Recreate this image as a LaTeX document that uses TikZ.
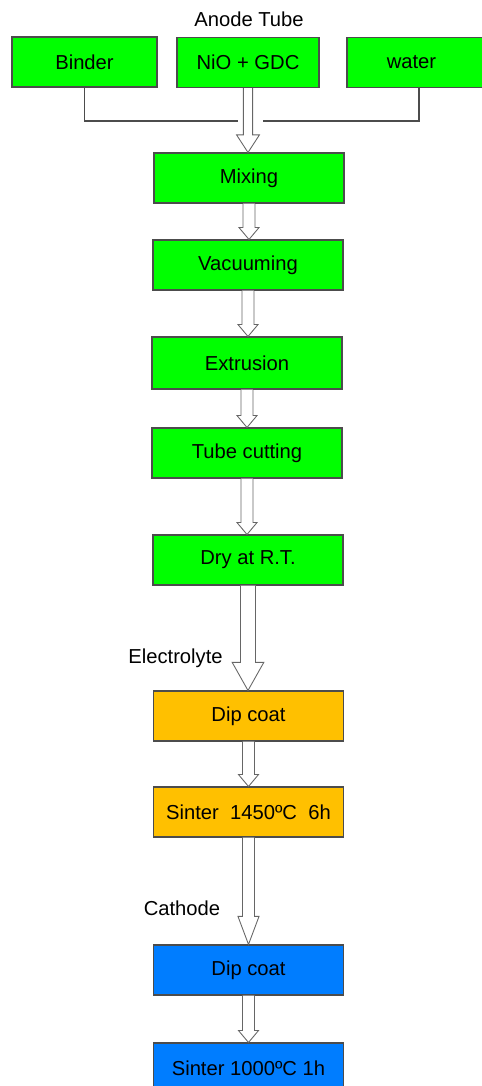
\documentclass[tikz,border=0pt]{standalone}
\usepackage{fontspec}
\setmainfont{Liberation Sans}
\usetikzlibrary{calc}
\definecolor{stepgreen}{RGB}{0,255,0}
\definecolor{steporange}{RGB}{255,192,0}
\definecolor{stepblue}{RGB}{0,125,255}
% hollow block arrow: from, to, shaft half width, head half width, head length
\newcommand{\hollowarrow}[5]{%
  \draw[arrowline] let \p1=(#1.south), \p2=(#2.north) in
    (\x1-#3,\y1) -- (\x1-#3,\y2+#5) -- (\x1-#4,\y2+#5) -- (\x1,\y2)
    -- (\x1+#4,\y2+#5) -- (\x1+#3,\y2+#5) -- (\x1+#3,\y1);}
\begin{document}
\begin{tikzpicture}[x=0.02cm,y=-0.02cm]
	\tikzset{stepbox/.style={draw=black!70, line width=0.6pt, minimum width=3.8cm, minimum height=1cm, inner sep=0pt, font=\fontsize{11.5}{13}\selectfont},
		greenbox/.style={stepbox, fill=stepgreen},
		orangebox/.style={stepbox, fill=steporange},
		bluebox/.style={stepbox, fill=stepblue},
		arrowline/.style={draw=black!60, fill=white, line width=0.5pt},
		label/.style={font=\fontsize{11.5}{13}\selectfont}}
	\useasboundingbox (0,0) rectangle (481,1086);
	\node[label] (title) at (249,19) {Anode Tube};
	\node[greenbox, minimum width=2.9cm] (binder) at (84.5,62) {Binder};
	\node[greenbox, minimum width=2.84cm] (nio) at (248,62.5) {NiO + GDC};
	\node[greenbox, minimum width=3cm] (water) at (422,62.5) {\hspace*{-12pt}water};
	\node[greenbox] (mix) at (249,178) {Mixing};
	\node[greenbox] (vac) at (248,265) {Vacuuming};
	\node[greenbox, minimum height=1.04cm] (ext) at (247,363) {Extrusion};
	\node[greenbox] (cut) at (247,453) {Tube cutting};
	\node[greenbox] (dry) at (248,560) {Dry at R.T.};
	\node[orangebox] (dip1) at (248.5,716) {Dip coat};
	\node[orangebox] (sin1) at (248.5,812) {Sinter~~1450ºC~~6h};
	\node[bluebox] (dip2) at (248.5,970) {Dip coat};
	\node[bluebox] (sin2) at (248.5,1068) {Sinter 1000ºC 1h};
	\node[label] (electro) at (175.5,658) {Electrolyte};
	\node[label] (cathode) at (182,908) {Cathode};
	% side inputs join the main arrow
	\coordinate (jl) at (238,121);
	\coordinate (jr) at (263,121);
	\draw[black!70, line width=0.6pt] (binder.south) |- (jl);
	\draw[black!70, line width=0.6pt] (water.south) ++(-3,0) |- (jr);
	\hollowarrow{nio}{mix}{2.6pt}{6.5pt}{10pt}
	\hollowarrow{mix}{vac}{3.4pt}{5.7pt}{6.8pt}
	\hollowarrow{vac}{ext}{3.4pt}{5.7pt}{6.8pt}
	\hollowarrow{ext}{cut}{3.4pt}{5.7pt}{6.8pt}
	\hollowarrow{cut}{dry}{3.4pt}{5.7pt}{6.8pt}
	\hollowarrow{dry}{dip1}{4.3pt}{9pt}{16pt}
	\hollowarrow{dip1}{sin1}{3.4pt}{5.7pt}{6.8pt}
	\hollowarrow{sin1}{dip2}{3.4pt}{6pt}{16pt}
	\hollowarrow{dip2}{sin2}{3.4pt}{5.7pt}{6.8pt}
\end{tikzpicture}
\end{document}
